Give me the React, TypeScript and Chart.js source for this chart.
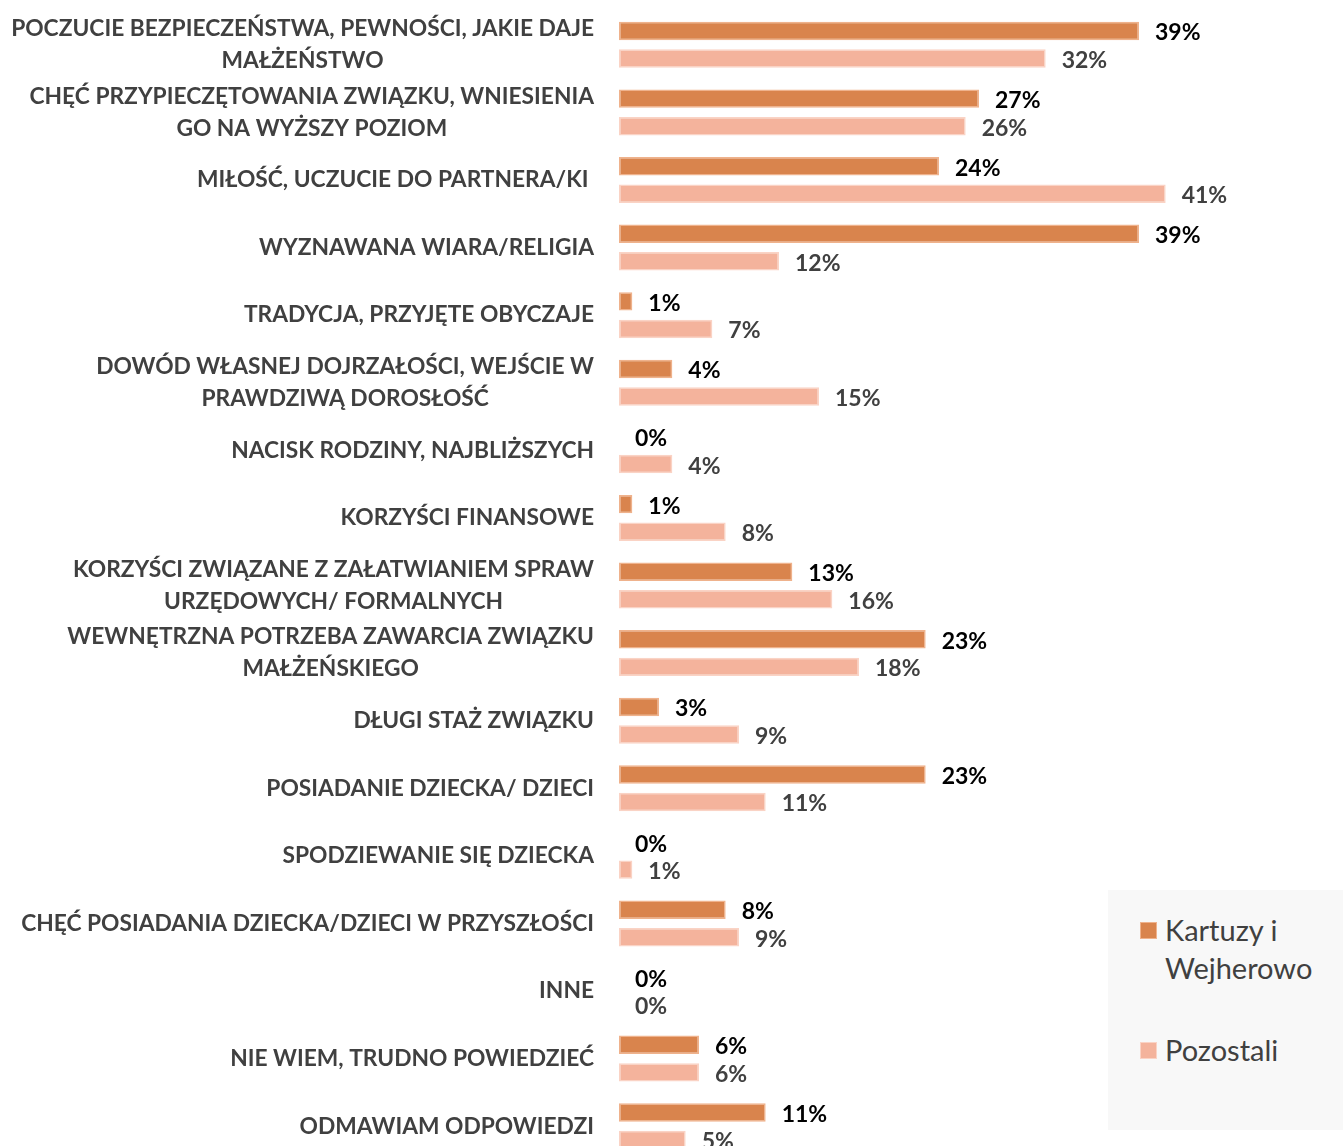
import React, { useEffect, useRef } from "react";
import { Chart, registerables } from "chart.js";

Chart.register(...registerables);

const categories: (string | string[])[] = [
  ["POCZUCIE BEZPIECZEŃSTWA, PEWNOŚCI, JAKIE DAJE", "MAŁŻEŃSTWO"],
  ["CHĘĆ PRZYPIECZĘTOWANIA ZWIĄZKU, WNIESIENIA", "GO NA WYŻSZY POZIOM"],
  "MIŁOŚĆ, UCZUCIE DO PARTNERA/KI ",
  "WYZNAWANA WIARA/RELIGIA",
  "TRADYCJA, PRZYJĘTE OBYCZAJE",
  ["DOWÓD WŁASNEJ DOJRZAŁOŚCI, WEJŚCIE W", "PRAWDZIWĄ DOROSŁOŚĆ"],
  "NACISK RODZINY, NAJBLIŻSZYCH",
  "KORZYŚCI FINANSOWE",
  ["KORZYŚCI ZWIĄZANE Z ZAŁATWIANIEM SPRAW", "URZĘDOWYCH/ FORMALNYCH"],
  ["WEWNĘTRZNA POTRZEBA ZAWARCIA ZWIĄZKU", "MAŁŻEŃSKIEGO"],
  "DŁUGI STAŻ ZWIĄZKU",
  "POSIADANIE DZIECKA/ DZIECI",
  "SPODZIEWANIE SIĘ DZIECKA",
  "CHĘĆ POSIADANIA DZIECKA/DZIECI W PRZYSZŁOŚCI",
  "INNE",
  "NIE WIEM, TRUDNO POWIEDZIEĆ",
  "ODMAWIAM ODPOWIEDZI",
];

const kartuzyValues = [39, 27, 24, 39, 1, 4, 0, 1, 13, 23, 3, 23, 0, 8, 0, 6, 11];
const pozostaliValues = [32, 26, 41, 12, 7, 15, 4, 8, 16, 18, 9, 11, 1, 9, 0, 6, 5];

const seriesNames = ["Kartuzy i Wejherowo", "Pozostali"];
const legendLines = [["Kartuzy i", "Wejherowo"], ["Pozostali"]];

const DARK = "#D9844D";
const DARK_BORDER = "#EFB28C";
const LIGHT = "#F4B39C";
const LIGHT_BORDER = "#FAD3C5";
const FONT = "Lato";
const TARGET_LABEL_WIDTH = 583;

const labelPlugin = {
  id: "customLabels",
  afterDatasetsDraw(chart: any) {
    const ctx = chart.ctx as CanvasRenderingContext2D;
    const yScale = chart.scales.y;
    const right = chart.chartArea.left - 25;
    ctx.save();
    ctx.font = `bold 20px ${FONT}`;
    let maxW = 0;
    categories.forEach((lab) => {
      const lines = Array.isArray(lab) ? lab : [lab];
      lines.forEach((l) => {
        maxW = Math.max(maxW, ctx.measureText(l).width);
      });
    });
    const size = Math.min(23, (20 * TARGET_LABEL_WIDTH) / maxW);
    ctx.font = `bold ${size}px ${FONT}`;
    ctx.fillStyle = "#404040";
    ctx.textAlign = "center";
    ctx.textBaseline = "middle";
    categories.forEach((lab, i) => {
      const lines = Array.isArray(lab) ? lab : [lab];
      const y = yScale.getPixelForValue(i);
      const w = Math.max(...lines.map((l) => ctx.measureText(l).width));
      const cx = right - w / 2;
      lines.forEach((l, j) => {
        ctx.fillText(l, cx, y + (j - (lines.length - 1) / 2) * 32);
      });
    });
    ctx.font = `bold 23px ${FONT}`;
    ctx.textAlign = "left";
    chart.data.datasets.forEach((ds: any, di: number) => {
      const meta = chart.getDatasetMeta(di);
      meta.data.forEach((el: any, i: number) => {
        ctx.fillStyle = di === 0 ? "#000000" : "#404040";
        ctx.fillText(`${ds.data[i]}%`, el.x + 16, el.y + 2);
      });
    });
    ctx.restore();
  },
};

export default function App() {
  const canvasRef = useRef<HTMLCanvasElement | null>(null);

  useEffect(() => {
    if (!canvasRef.current) return;
    const chart = new Chart(canvasRef.current, {
      type: "bar",
      data: {
        labels: categories.map((c) => (Array.isArray(c) ? c.join(" ") : c)),
        datasets: [
          {
            label: seriesNames[0],
            data: kartuzyValues,
            backgroundColor: DARK,
            borderColor: DARK_BORDER,
            borderWidth: 1.5,
            borderSkipped: false,
            barPercentage: 0.67,
            categoryPercentage: 0.815,
          },
          {
            label: seriesNames[1],
            data: pozostaliValues,
            backgroundColor: LIGHT,
            borderColor: LIGHT_BORDER,
            borderWidth: 1.5,
            borderSkipped: false,
            barPercentage: 0.67,
            categoryPercentage: 0.815,
          },
        ],
      },
      options: {
        indexAxis: "y",
        responsive: false,
        animation: false,
        layout: { padding: { left: 619, right: 4, top: 11, bottom: 12 } },
        scales: {
          x: { display: false, min: 0, max: 54 },
          y: { display: false },
        },
        plugins: {
          legend: { display: false },
          tooltip: { enabled: false },
        },
      },
      plugins: [labelPlugin],
    });
    return () => chart.destroy();
  }, []);

  const legendColors = [DARK, LIGHT];
  const legendBorders = [DARK_BORDER, LIGHT_BORDER];
  const legendTops = [40, 160];

  return (
    <div
      style={{
        position: "fixed",
        left: 0,
        top: 0,
        width: 1343,
        height: 1146,
        overflow: "hidden",
        background: "#ffffff",
      }}
    >
      <canvas ref={canvasRef} width={1343} height={1172} style={{ display: "block" }} />
      <div
        style={{
          position: "absolute",
          left: 1108,
          top: 890,
          width: 235,
          height: 240,
          background: "#f8f8f8",
          fontFamily: FONT,
          color: "#404040",
          fontSize: 29,
        }}
      >
        {legendLines.map((lines, i) => (
          <React.Fragment key={i}>
            <div
              style={{
                position: "absolute",
                left: 32,
                top: legendTops[i] - 8,
                width: 15,
                height: 15,
                background: legendColors[i],
                border: `1px solid ${legendBorders[i]}`,
              }}
            />
            {lines.map((l, j) => (
              <div
                key={j}
                style={{
                  position: "absolute",
                  left: 57,
                  top: legendTops[i] + j * 38 - 19,
                  height: 38,
                  lineHeight: "38px",
                  whiteSpace: "nowrap",
                }}
              >
                {l}
              </div>
            ))}
          </React.Fragment>
        ))}
      </div>
    </div>
  );
}
